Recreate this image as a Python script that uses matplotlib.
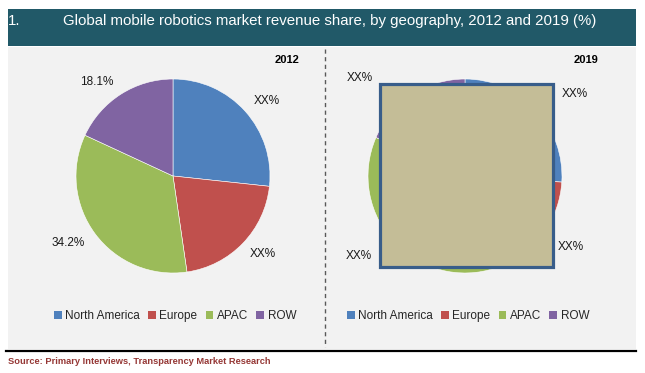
import numpy as np
import matplotlib
matplotlib.use('Agg')
import matplotlib.pyplot as plt
from matplotlib.patches import Rectangle
from matplotlib import font_manager

# Data
regions = ['North America', 'Europe', 'APAC', 'ROW']
share_2012 = [26.7, 21.0, 34.2, 18.1]
share_2019 = [26.0, 17.5, 38.0, 18.5]
labels_2012 = ['XX%', 'XX%', '34.2%', '18.1%']
labels_2019 = ['XX%', 'XX%', 'XX%', 'XX%']
colors = ['#4f81bd', '#c0504d', '#9bbb59', '#8064a2']

W, H = 645, 373
names = {f.name for f in font_manager.fontManager.ttflist}
narrow = 'Liberation Sans Narrow' if 'Liberation Sans Narrow' in names else 'Liberation Sans'
plt.rcParams['font.family'] = ['Liberation Sans', 'DejaVu Sans']

fig = plt.figure(figsize=(W / 100, H / 100), dpi=100)
fig.patch.set_facecolor('white')


def box(x0, y0, x1, y1):
    # pixel box (top-left origin) -> figure fraction
    return [x0 / W, 1 - y1 / H, (x1 - x0) / W, (y1 - y0) / H]


def rect(x0, y0, x1, y1, **kw):
    b = box(x0, y0, x1, y1)
    fig.add_artist(Rectangle((b[0], b[1]), b[2], b[3], transform=fig.transFigure, **kw))


# header and panel
rect(8, 9, 636, 46, fc='#215968', ec='none', zorder=-2)
rect(8, 47, 636, 349, fc='#f2f2f2', ec='none', zorder=-2)
fig.add_artist(plt.Line2D([6 / W, 636 / W], [1 - 350.5 / H] * 2, color='black', lw=1.6))
fig.add_artist(plt.Line2D([325 / W, 325 / W], [1 - 49 / H, 1 - 347 / H], color='#595959',
                          lw=1, ls=(0, (3, 2.5))))

fig.text(8 / W, 1 - 21 / H, '1.', color='white', fontsize=10.8, family=narrow, va='center')
fig.text(63 / W, 1 - 21 / H, 'Global mobile robotics market revenue share, by geography, 2012 and 2019 (%)',
         color='white', fontsize=10.8, family=narrow, va='center')
fig.text(8 / W, 1 - 362 / H, 'Source: Primary Interviews, Transparency Market Research',
         color='#953735', fontsize=6.7, family=narrow, weight='bold', va='center')

# pies
r = 97
ax1 = fig.add_axes(box(173 - r, 176 - r, 173 + r, 176 + r))
ax2 = fig.add_axes(box(465 - r, 176 - r, 465 + r, 176 + r))

ax1.pie(share_2012, colors=colors, startangle=90, counterclock=False, radius=1,
        wedgeprops=dict(edgecolor='white', linewidth=0.4))
ax2.pie(share_2019, colors=colors, startangle=90, counterclock=False, radius=1,
        wedgeprops=dict(edgecolor='white', linewidth=0.4))

# data labels were hand placed in the original (angle in degrees, distance in radii)
label_place = {
    ax1: (labels_2012, [38.6, -40.9, -147.2, 129], [1.24, 1.23, 1.28, 1.25]),
    ax2: (labels_2019, [36.7, -34, -143, 137], [1.41, 1.31, 1.37, 1.48]),
}
for ax, (texts, angles, dists) in label_place.items():
    for txt, a, d in zip(texts, angles, dists):
        ax.text(d * np.cos(np.radians(a)), d * np.sin(np.radians(a)), txt, ha='center',
                va='center', fontsize=8.5, color='#1a1a1a', clip_on=False, zorder=20)

for ax in (ax1, ax2):
    ax.set_xlim(-1, 1)
    ax.set_ylim(-1, 1)
    ax.set_aspect('equal')
    ax.axis('off')

fig.text(287 / W, 1 - 60 / H, '2012', ha='center', va='center', fontsize=8, weight='bold')
fig.text(586 / W, 1 - 60 / H, '2019', ha='center', va='center', fontsize=8, weight='bold')

# legends
for cx in (175, 468):
    handles = [Rectangle((0, 0), 1, 1, fc=c, ec='none') for c in colors]
    fig.legend(handles, regions, loc='center', bbox_to_anchor=(cx / W, 1 - 316 / H), ncol=4,
               frameon=False, fontsize=8.5, handlelength=0.65, handleheight=0.65,
               handletextpad=0.3, columnspacing=0.7, labelcolor='#262626')

# placeholder box over the 2019 pie
rect(380, 84, 553, 267, fc='#c4bd97', ec='#385d8a', lw=2.3, zorder=10)

fig.savefig('out.png', dpi=100, facecolor='white')
